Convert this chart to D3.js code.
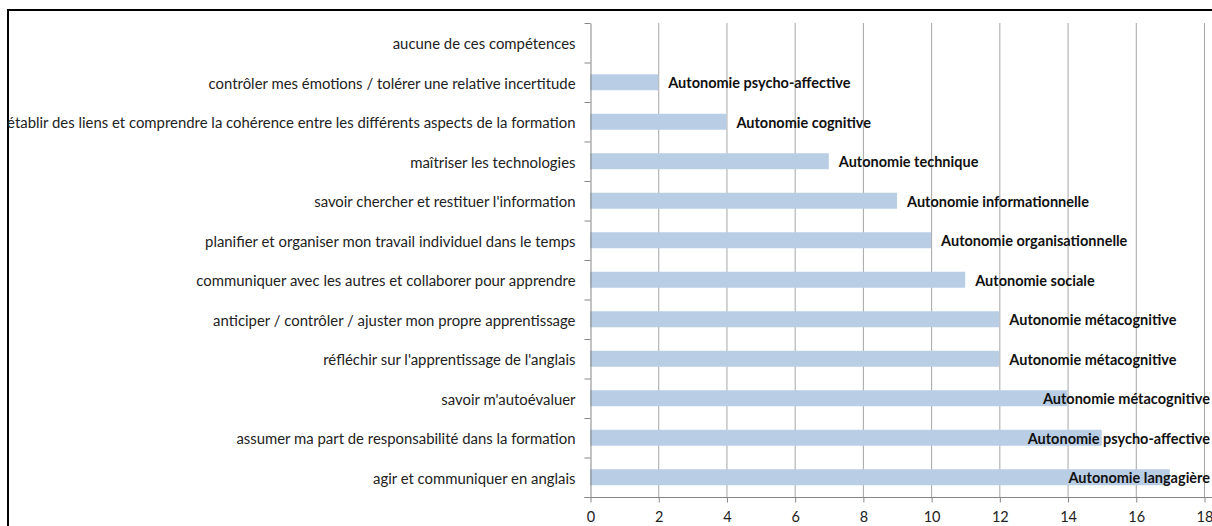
<!DOCTYPE html>
<html>
<head>
<meta charset="utf-8">
<script src="https://cdn.jsdelivr.net/npm/d3@7"></script>
<style>
  body { margin: 0; background: #fff; }
  text { font-family: Lato, "Open Sans", sans-serif; }
</style>
</head>
<body>
<div id="chart"></div>
<script>
// categories from top to bottom, as in the picture
const categories = [
  "aucune de ces compétences",
  "contrôler mes émotions / tolérer une relative incertitude",
  "établir des liens et comprendre la cohérence entre les différents aspects de la formation",
  "maîtriser les technologies",
  "savoir chercher et restituer l'information",
  "planifier et organiser mon travail individuel dans le temps",
  "communiquer avec les autres et collaborer pour apprendre",
  "anticiper / contrôler / ajuster mon propre apprentissage",
  "réfléchir sur l'apprentissage de l'anglais",
  "savoir m'autoévaluer",
  "assumer ma part de responsabilité dans la formation",
  "agir et communiquer en anglais"
];
const values = [0, 2, 4, 7, 9, 10, 11, 12, 12, 14, 15, 17];
const labels = [
  "",
  "Autonomie psycho-affective",
  "Autonomie cognitive",
  "Autonomie technique",
  "Autonomie informationnelle",
  "Autonomie organisationnelle",
  "Autonomie sociale",
  "Autonomie métacognitive",
  "Autonomie métacognitive",
  "Autonomie métacognitive",
  "Autonomie psycho-affective",
  "Autonomie langagière"
];
const xTicks = [0, 2, 4, 6, 8, 10, 12, 14, 16, 18];

const w = 1212, h = 526;
const svg = d3.select("#chart").append("svg")
  .attr("width", w).attr("height", h);

// chart frame (only top and left edges are visible)
svg.append("rect")
  .attr("x", 8).attr("y", 10)
  .attr("width", 1300).attr("height", 600)
  .attr("fill", "none").attr("stroke", "#000").attr("stroke-width", 2);

const x = d3.scaleLinear().domain([0, 18]).range([590, 1204]);
const y = d3.scaleBand().domain(categories).range([23, 497]);

// vertical gridlines
svg.append("g").selectAll("line")
  .data(xTicks.slice(1))
  .enter().append("line")
  .attr("x1", d => x(d) + 0.5).attr("x2", d => x(d) + 0.5)
  .attr("y1", 23).attr("y2", 497)
  .attr("stroke", "#a6a6a6");

// bars
const barH = 16;
svg.append("g").selectAll("rect")
  .data(values)
  .enter().append("rect")
  .attr("x", x(0))
  .attr("y", (d, i) => y(categories[i]) + y.bandwidth() / 2 - barH / 2)
  .attr("width", d => x(d) - x(0))
  .attr("height", barH)
  .attr("fill", "#b9cde5");

// y axis
const yAxis = d3.axisLeft(y).tickSize(0).tickPadding(15);
const gy = svg.append("g")
  .attr("transform", `translate(${x(0) + 0.5},0)`)
  .call(yAxis);
gy.select(".domain").attr("stroke", "#868686");
gy.selectAll("text")
  .attr("font-size", 14.9).attr("fill", "#222")
  .attr("font-family", "Lato, sans-serif")
  .attr("dy", "0.45em");
// ticks between categories
gy.selectAll(".sep")
  .data(d3.range(categories.length + 1))
  .enter().append("line")
  .attr("x1", -6).attr("x2", 0)
  .attr("y1", i => 23 + i * y.step() + 0.5)
  .attr("y2", i => 23 + i * y.step() + 0.5)
  .attr("stroke", "#868686");

// x axis
const xAxis = d3.axisBottom(x).tickValues(xTicks).tickSize(5).tickPadding(9);
const gx = svg.append("g")
  .attr("transform", "translate(0.5,497.5)")
  .call(xAxis);
gx.select(".domain").attr("stroke", "#868686")
  .attr("d", "M" + (x(0) - 6) + ",0H" + (x(18) + 10));
gx.selectAll(".tick line").attr("stroke", "#868686");
gx.selectAll("text")
  .attr("font-size", 14.5).attr("fill", "#222")
  .attr("font-family", "Lato, sans-serif");

// data labels, pushed back inside the picture when they would overflow
svg.append("g").selectAll("text")
  .data(labels)
  .enter().append("text")
  .attr("y", (d, i) => y(categories[i]) + y.bandwidth() / 2 + 1)
  .attr("dy", "0.35em")
  .attr("font-size", 14.5)
  .attr("font-weight", "bold")
  .attr("fill", "#111")
  .text(d => d)
  .attr("x", function (d, i) {
    const tw = this.getComputedTextLength();
    return Math.min(x(values[i]) + 10, w - 2 - tw);
  });
</script>
</body>
</html>
